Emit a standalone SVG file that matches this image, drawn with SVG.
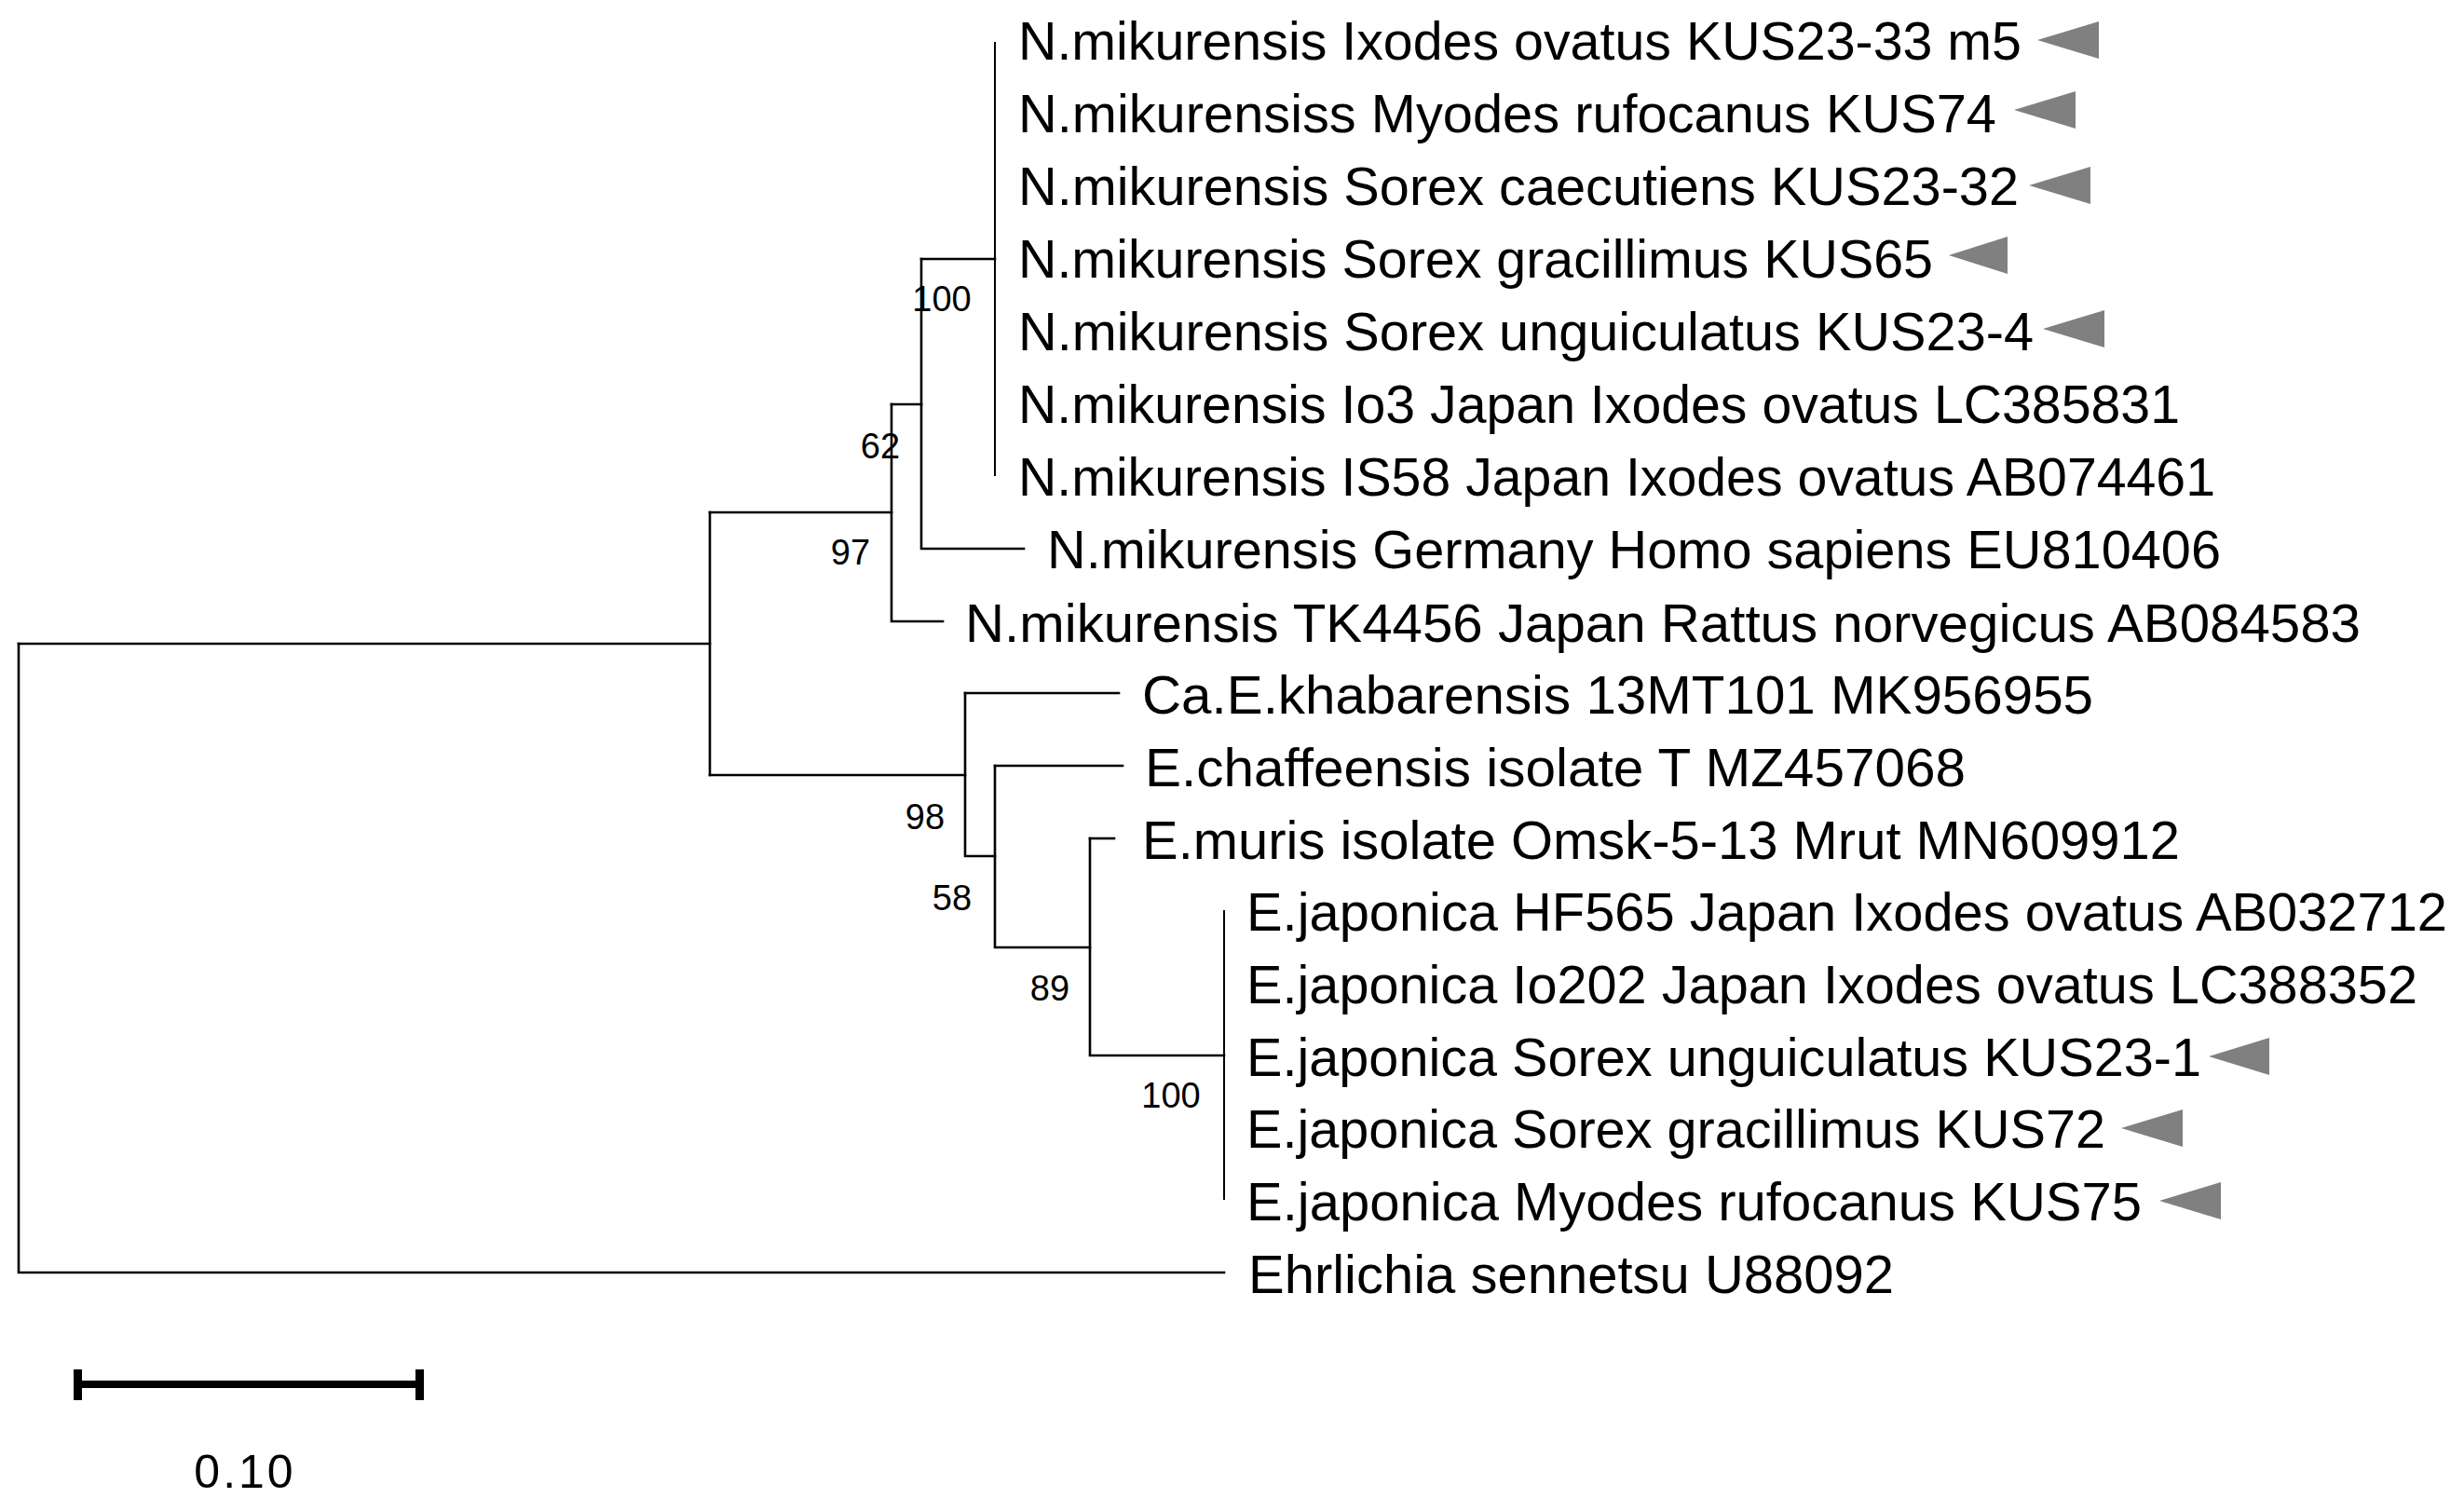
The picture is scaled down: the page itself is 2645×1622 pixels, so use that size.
<svg xmlns="http://www.w3.org/2000/svg" width="2645" height="1622" viewBox="0 0 2645 1622">
<style>
.br{stroke:#000;stroke-width:2.6;fill:none;stroke-linecap:square}
.cl{stroke:#000;stroke-width:2;fill:none}
.lb{font-family:"Liberation Sans",Arial,sans-serif;font-size:57px;fill:#000}
.bs{font-family:"Liberation Sans",Arial,sans-serif;font-size:38px;fill:#000;text-anchor:middle}
.tri{fill:#808080}
</style>
<rect width="2645" height="1622" fill="#fff"/>
<g id="connectors">
<path class="cl" d="M1068 45V511"/>
<path class="br" d="M989 278H1068"/>
<path class="br" d="M989 278V589H1099"/>
<path class="br" d="M957 434H989"/>
<path class="br" d="M957 434V667H1012"/>
<path class="br" d="M762 550H957"/>
<path class="br" d="M762 550V832"/>
<path class="br" d="M20 691H762"/>
<path class="br" d="M762 832H1036"/>
<path class="br" d="M1036 744H1201"/>
<path class="br" d="M1036 744V919H1068"/>
<path class="br" d="M1068 822H1205"/>
<path class="br" d="M1068 822V1017H1170"/>
<path class="br" d="M1170 900H1196"/>
<path class="br" d="M1170 900V1133H1314"/>
<path class="cl" d="M1314 977V1288"/>
<path class="br" d="M20 691V1366H1314"/>
</g>
<g id="support">
<text class="bs" x="1011" y="334">100</text>
<text class="bs" x="945" y="492">62</text>
<text class="bs" x="913" y="606">97</text>
<text class="bs" x="993" y="890">98</text>
<text class="bs" x="1022" y="977">58</text>
<text class="bs" x="1127" y="1074">89</text>
<text class="bs" x="1257" y="1189">100</text>
</g>
<g id="leaf0"><text class="lb" x="1093" y="64" textLength="1077" lengthAdjust="spacingAndGlyphs">N.mikurensis Ixodes ovatus KUS23-33 m5</text><polygon class="tri" points="2187,43 2253,23 2253,63"/></g>
<g id="leaf1"><text class="lb" x="1093" y="142" textLength="1050" lengthAdjust="spacingAndGlyphs">N.mikurensiss Myodes rufocanus KUS74</text><polygon class="tri" points="2162,118 2228,98 2228,138"/></g>
<g id="leaf2"><text class="lb" x="1093" y="220" textLength="1074" lengthAdjust="spacingAndGlyphs">N.mikurensis Sorex caecutiens KUS23-32</text><polygon class="tri" points="2178,199 2244,179 2244,219"/></g>
<g id="leaf3"><text class="lb" x="1093" y="298" textLength="982" lengthAdjust="spacingAndGlyphs">N.mikurensis Sorex gracillimus KUS65</text><polygon class="tri" points="2092,274 2155,254 2155,294"/></g>
<g id="leaf4"><text class="lb" x="1093" y="376" textLength="1090" lengthAdjust="spacingAndGlyphs">N.mikurensis Sorex unguiculatus KUS23-4</text><polygon class="tri" points="2193,353 2259,333 2259,373"/></g>
<g id="leaf5"><text class="lb" x="1093" y="454" textLength="1247" lengthAdjust="spacingAndGlyphs">N.mikurensis Io3 Japan Ixodes ovatus LC385831</text></g>
<g id="leaf6"><text class="lb" x="1093" y="532" textLength="1285" lengthAdjust="spacingAndGlyphs">N.mikurensis IS58 Japan Ixodes ovatus AB074461</text></g>
<g id="leaf7"><text class="lb" x="1124" y="610" textLength="1260" lengthAdjust="spacingAndGlyphs">N.mikurensis Germany Homo sapiens EU810406</text></g>
<g id="leaf8"><text class="lb" x="1036" y="689" textLength="1498" lengthAdjust="spacingAndGlyphs">N.mikurensis TK4456 Japan Rattus norvegicus AB084583</text></g>
<g id="leaf9"><text class="lb" x="1226" y="766" textLength="1021" lengthAdjust="spacingAndGlyphs">Ca.E.khabarensis 13MT101 MK956955</text></g>
<g id="leaf10"><text class="lb" x="1229" y="844" textLength="881" lengthAdjust="spacingAndGlyphs">E.chaffeensis isolate T MZ457068</text></g>
<g id="leaf11"><text class="lb" x="1226" y="922" textLength="1114" lengthAdjust="spacingAndGlyphs">E.muris isolate Omsk-5-13 Mrut MN609912</text></g>
<g id="leaf12"><text class="lb" x="1338" y="999" textLength="1289" lengthAdjust="spacingAndGlyphs">E.japonica HF565 Japan Ixodes ovatus AB032712</text></g>
<g id="leaf13"><text class="lb" x="1338" y="1077" textLength="1257" lengthAdjust="spacingAndGlyphs">E.japonica Io202 Japan Ixodes ovatus LC388352</text></g>
<g id="leaf14"><text class="lb" x="1338" y="1155" textLength="1025" lengthAdjust="spacingAndGlyphs">E.japonica Sorex unguiculatus KUS23-1</text><polygon class="tri" points="2371,1134 2436,1114 2436,1154"/></g>
<g id="leaf15"><text class="lb" x="1338" y="1232" textLength="922" lengthAdjust="spacingAndGlyphs">E.japonica Sorex gracillimus KUS72</text><polygon class="tri" points="2277,1211 2343,1191 2343,1231"/></g>
<g id="leaf16"><text class="lb" x="1338" y="1310" textLength="961" lengthAdjust="spacingAndGlyphs">E.japonica Myodes rufocanus KUS75</text><polygon class="tri" points="2318,1289 2384,1269 2384,1309"/></g>
<g id="leaf17"><text class="lb" x="1340" y="1388" textLength="693" lengthAdjust="spacingAndGlyphs">Ehrlichia sennetsu U88092</text></g>
<g id="scalebar">
<rect x="79" y="1482" width="376" height="8" fill="#000"/>
<rect x="79" y="1470" width="9" height="33" fill="#000"/>
<rect x="446" y="1470" width="9" height="33" fill="#000"/>
<text x="263" y="1597" font-family="Liberation Sans, Arial, sans-serif" font-size="50" letter-spacing="3" text-anchor="middle" fill="#000">0.10</text>
</g>
</svg>
